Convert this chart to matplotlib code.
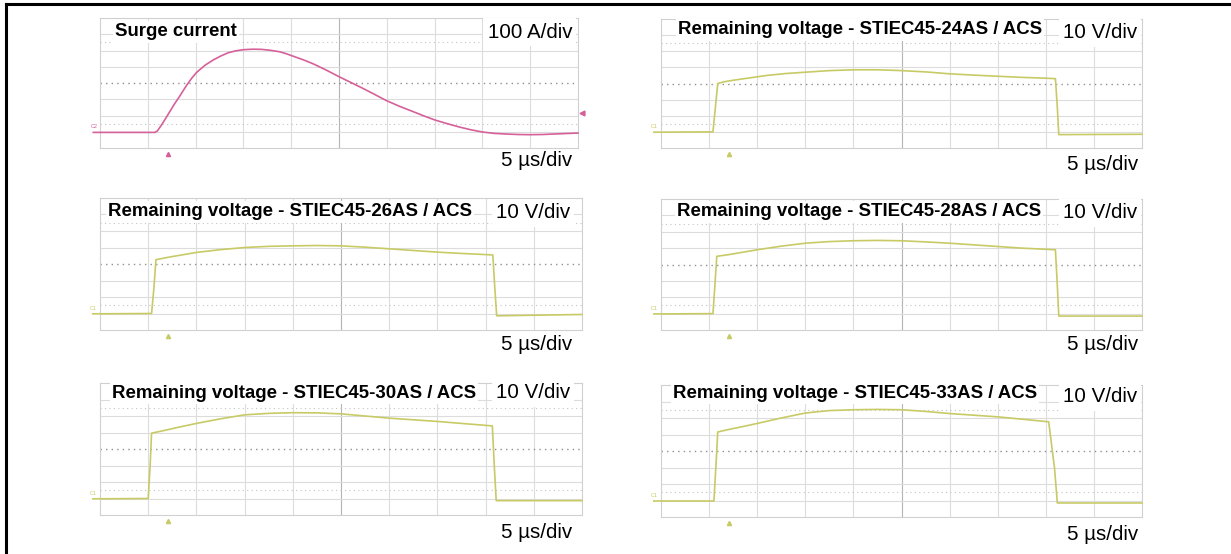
import numpy as np
import matplotlib
matplotlib.use('Agg')
import matplotlib.pyplot as plt
from matplotlib.lines import Line2D

plt.rcParams['font.family'] = ['Liberation Sans', 'DejaVu Sans']

W, H = 1231, 554

# surge current trace, in scope divisions (time div, amplitude div)
surge_t = [-0.14, 1.15, 1.2, 1.29, 1.38, 1.46, 1.56, 1.67, 1.81, 1.92, 2.02, 2.2, 2.37,
           2.52, 2.68, 2.84, 3.0, 3.2, 3.38, 3.57, 3.76, 3.9, 4.04, 4.25, 4.46, 4.73,
           5.0, 5.25, 5.5, 5.75, 5.99, 6.27, 6.55, 6.78, 7.0, 7.26, 7.52, 7.76, 8.01,
           8.25, 8.5, 8.75, 8.99, 9.25, 9.48, 10.0]
surge_v = [0.96, 0.96, 1.05, 1.43, 1.85, 2.24, 2.72, 3.2, 3.85, 4.3, 4.65, 5.1, 5.42,
           5.65, 5.86, 5.98, 6.05, 6.08, 6.07, 6.01, 5.92, 5.8, 5.65, 5.43, 5.18, 4.8,
           4.39, 4.03, 3.67, 3.29, 2.92, 2.56, 2.24, 1.97, 1.73, 1.5, 1.29, 1.12, 0.98,
           0.9, 0.86, 0.83, 0.82, 0.83, 0.86, 0.92]

# remaining voltage traces (time div, voltage div)
v24_t = [-0.15, 1.08, 1.13, 1.18, 1.3, 1.5, 1.8, 2.2, 2.6, 3.0, 3.5, 4.0, 4.5, 5.0,
         5.5, 6.0, 6.5, 7.0, 7.5, 8.0, 8.2, 8.24, 8.27, 10.0]
v24_v = [0.98, 1.0, 2.5, 4.0, 4.1, 4.2, 4.33, 4.5, 4.62, 4.7, 4.8, 4.85, 4.85, 4.8,
         4.72, 4.6, 4.52, 4.45, 4.38, 4.33, 4.3, 2.5, 0.83, 0.85]

v26_t = [-0.15, 1.07, 1.12, 1.16, 1.4, 1.7, 2.0, 2.5, 3.0, 3.5, 4.0, 4.5, 5.0, 5.5,
         6.0, 6.5, 7.0, 7.5, 8.15, 8.19, 8.23, 10.0]
v26_v = [0.98, 1.0, 2.6, 4.26, 4.4, 4.55, 4.7, 4.87, 5.0, 5.07, 5.1, 5.12, 5.1, 5.02,
         4.92, 4.82, 4.72, 4.64, 4.55, 2.6, 0.86, 0.94]

v28_t = [-0.15, 1.08, 1.12, 1.16, 1.4, 1.7, 2.0, 2.5, 3.0, 3.5, 4.0, 4.5, 5.0, 5.5,
         6.0, 6.5, 7.0, 7.5, 8.2, 8.24, 8.27, 10.0]
v28_v = [0.98, 1.0, 2.7, 4.5, 4.6, 4.75, 4.9, 5.12, 5.3, 5.4, 5.45, 5.47, 5.45, 5.38,
         5.3, 5.2, 5.1, 5.0, 4.9, 2.7, 0.85, 0.85]

v30_t = [-0.15, 1.0, 1.04, 1.07, 1.3, 1.6, 2.0, 2.5, 3.0, 3.5, 4.0, 4.5, 5.0, 5.5,
         6.0, 6.5, 7.0, 7.5, 8.14, 8.18, 8.22, 10.0]
v30_v = [0.98, 1.0, 3.0, 4.96, 5.1, 5.3, 5.55, 5.83, 6.07, 6.16, 6.2, 6.19, 6.13, 6.0,
         5.87, 5.77, 5.67, 5.55, 5.4, 3.0, 0.87, 0.87]

v33_t = [-0.15, 1.1, 1.14, 1.18, 1.4, 1.7, 2.0, 2.5, 3.0, 3.5, 4.0, 4.5, 5.0, 5.5,
         6.0, 6.5, 7.0, 7.5, 8.06, 8.18, 8.24, 10.0]
v33_v = [0.97, 0.97, 3.0, 5.15, 5.3, 5.48, 5.67, 6.0, 6.3, 6.45, 6.5, 6.52, 6.5, 6.4,
         6.27, 6.17, 6.07, 5.93, 5.77, 3.0, 0.85, 0.85]

titles = ['Surge current',
          'Remaining voltage - STIEC45-24AS / ACS',
          'Remaining voltage - STIEC45-26AS / ACS',
          'Remaining voltage - STIEC45-28AS / ACS',
          'Remaining voltage - STIEC45-30AS / ACS',
          'Remaining voltage - STIEC45-33AS / ACS']
y_scales = ['100 A/div', '10 V/div', '10 V/div', '10 V/div', '10 V/div', '10 V/div']
x_scale = '5 µs/div'
channels = ['C2', 'C1', 'C1', 'C1', 'C1', 'C1']

traces = [(surge_t, surge_v), (v24_t, v24_v), (v26_t, v26_v),
          (v28_t, v28_v), (v30_t, v30_v), (v33_t, v33_v)]
trig_t = 1.42  # trigger marker under the screen

pink = '#d5609a'
yellow = '#c8ca66'
colors = [pink, yellow, yellow, yellow, yellow, yellow]

# screen boxes in pixels: left, top, right, bottom
boxes = [(100, 18, 578, 148), (661, 19, 1142, 148),
         (100, 198, 582, 330), (661, 199, 1142, 330),
         (100, 383, 582, 515), (661, 385, 1142, 517)]
# label positions in pixels: title (left, y), scale (right, y), time (right, y)
title_pos = [(115, 32), (678, 30), (108, 212), (677, 212), (112, 393), (673, 393)]
scale_pos = [(572, 32), (1137, 33), (570, 213), (1137, 213), (570, 393), (1137, 397)]
time_pos = [(572, 160), (1138, 165), (572, 345), (1138, 345), (572, 533), (1138, 535)]


def fx(x):
    return x / W


def fy(y):
    return 1 - y / H


fig = plt.figure(figsize=(W / 100, H / 100), dpi=100, facecolor='white')

for i in range(6):
    l, t, r, b = boxes[i]
    ax = fig.add_axes([fx(l), fy(b), (r - l) / W, (b - t) / H])
    ax.set_xlim(0, 10)
    ax.set_ylim(0, 8)
    # scope grid
    for k in range(1, 10):
        ax.axvline(k, color='#b5b5b5' if k == 5 else '#dcdcdc', lw=0.8, zorder=0)
    for k in range(1, 8):
        if k == 4:
            ax.axhline(k, color='#8f8f8f', lw=1.0, ls=(0, (1, 3)), zorder=0)
        else:
            ax.axhline(k, color='#dcdcdc', lw=0.8, zorder=0)
    for k in (1.5, 6.5):
        ax.axhline(k, color='#c4c4c4', lw=0.8, ls=(0, (1, 3)), zorder=0)
    for s in ax.spines.values():
        s.set_color('#d0d0d0')
        s.set_linewidth(0.8)
    ax.set_xticks([])
    ax.set_yticks([])

    tt, vv = traces[i]
    ax.plot(tt, vv, color=colors[i], lw=1.2, clip_on=False, zorder=3)
    ax.plot([trig_t], [-0.35], marker='^', ms=3, color=colors[i], clip_on=False, ls='none')
    ax.text(tt[0] + 0.02, vv[0] + 0.2, channels[i], fontsize=4,
            color=colors[i], ha='center', va='bottom', clip_on=False)
    if i == 0:
        ax.plot([10.08], [2.15], marker='<', ms=3.5, color=pink, clip_on=False, ls='none')

    fig.text(fx(title_pos[i][0]), fy(title_pos[i][1]), titles[i], fontsize=13.4,
             fontweight='bold', ha='left', va='center', zorder=5,
             bbox=dict(facecolor='white', edgecolor='none', pad=1.5))
    fig.text(fx(scale_pos[i][0]), fy(scale_pos[i][1]), y_scales[i], fontsize=14.8,
             ha='right', va='center', zorder=5,
             bbox=dict(facecolor='white', edgecolor='none', pad=3))
    fig.text(fx(time_pos[i][0]), fy(time_pos[i][1]), x_scale, fontsize=14.8,
             ha='right', va='center')

# black frame lines on top and left
fig.add_artist(Line2D([fx(6), fx(6)], [0, fy(4)], color='black', lw=2.2))
fig.add_artist(Line2D([fx(6), 1], [fy(4), fy(4)], color='black', lw=2.2))

fig.savefig('out.png', dpi=100, facecolor='white')
